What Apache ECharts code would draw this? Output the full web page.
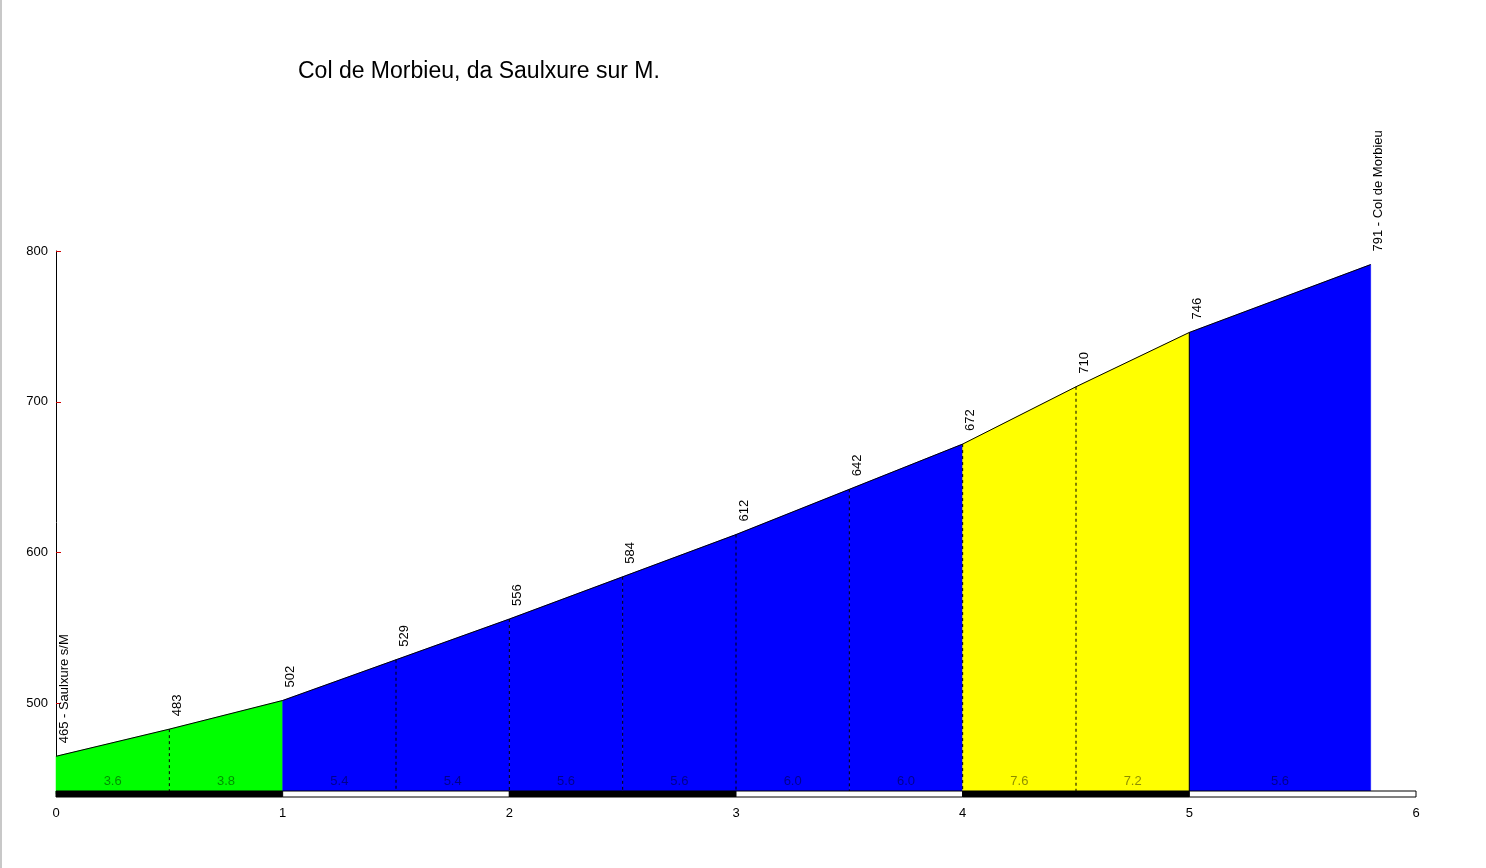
<!DOCTYPE html>
<html>
<head>
<meta charset="utf-8">
<script src="https://cdn.jsdelivr.net/npm/echarts@6/dist/echarts.min.js"></script>
<style>
html,body{margin:0;padding:0;background:#fff;}
#chart{width:1486px;height:868px;}
</style>
</head>
<body>
<div id="chart"></div>
<script>
// ---- data ----
const titleText = 'Col de Morbieu, da Saulxure sur M.';
const distances = [0, 0.5, 1, 1.5, 2, 2.5, 3, 3.5, 4, 4.5, 5, 5.8];
const elevations = [465, 483, 502, 529, 556, 584, 612, 642, 672, 710, 746, 791];
const gradients = ['3.6', '3.8', '5.4', '5.4', '5.6', '5.6', '6.0', '6.0', '7.6', '7.2', '5.6'];
const startName = 'Saulxure s/M';
const endName = 'Col de Morbieu';
const xTicks = [0, 1, 2, 3, 4, 5, 6];
const yTicks = [500, 600, 700, 800];
const kmBands = [0, 1, 2, 3, 4, 5];

const Y_MIN = 440, Y_MAX = 800;
const FONT = 'Arial, "Liberation Sans", sans-serif';

function gradColor(g) {
  const v = parseFloat(g);
  if (v < 5) return '#00ff00';
  if (v < 7) return '#0000ff';
  return '#ffff00';
}

const segData = gradients.map((g, i) => [distances[i], elevations[i], distances[i + 1], elevations[i + 1], g]);
const pointData = elevations.map((e, i) => {
  let label = String(e);
  if (i === 0) label = e + ' - ' + startName;
  if (i === elevations.length - 1) label = e + ' - ' + endName;
  return { value: [distances[i], e], label: label };
});
const bandData = kmBands.map((k, i) => [k, k + 1, i % 2]);

const chart = echarts.init(document.getElementById('chart'), null, { renderer: 'canvas' });

const option = {
  backgroundColor: '#ffffff',
  animation: false,
  title: {
    text: titleText,
    left: 293,
    top: 55,
    textStyle: { fontFamily: FONT, fontSize: 23, fontWeight: 'normal', color: '#000' }
  },
  graphic: [{
    type: 'rect', left: 0, top: 0, shape: { x: 0, y: 0, width: 2, height: 868 },
    style: { fill: '#c8c8c8' }, silent: true
  }],
  grid: { left: 56, right: 70, top: 251, bottom: 74, containLabel: false },
  xAxis: {
    type: 'value', min: 0, max: 6, interval: 1,
    axisLine: { show: false }, axisTick: { show: false }, splitLine: { show: false },
    axisLabel: { color: '#000', fontFamily: FONT, fontSize: 13, margin: 13 }
  },
  yAxis: {
    type: 'value', min: Y_MIN, max: Y_MAX,
    axisLine: { show: true, lineStyle: { color: '#000', width: 1 } },
    axisTick: { show: true, inside: true, length: 5, customValues: yTicks, lineStyle: { color: '#d00000', width: 1 } },
    axisLabel: { color: '#000', fontFamily: FONT, fontSize: 13, margin: 8, customValues: yTicks },
    splitLine: { show: false }
  },
  series: [
    {
      type: 'custom',
      name: 'segments',
      data: segData,
      encode: { x: [0, 2], y: [1, 3] },
      z: 2,
      renderItem: function (params, api) {
        const x0 = api.value(0), y0 = api.value(1), x1 = api.value(2), y1 = api.value(3);
        const g = segData[params.dataIndex][4];
        const pB0 = api.coord([x0, Y_MIN]);
        const pT0 = api.coord([x0, y0]);
        const pT1 = api.coord([x1, y1]);
        const pB1 = api.coord([x1, Y_MIN]);
        const children = [{
          type: 'polygon',
          shape: { points: [pB0, pT0, pT1, pB1] },
          style: { fill: gradColor(g), stroke: gradColor(g), lineWidth: 0.5 }
        }];
        if (params.dataIndex > 0) {
          const prevG = segData[params.dataIndex - 1][4];
          const sameColor = gradColor(prevG) === gradColor(g);
          const yellowEdge = gradColor(g) === '#ffff00' || gradColor(prevG) === '#ffff00';
          if (sameColor || yellowEdge) {
            children.push({
              type: 'line',
              shape: { x1: pT0[0], y1: pT0[1], x2: pB0[0], y2: pB0[1] },
              style: { stroke: '#000', lineWidth: 1, lineDash: sameColor || gradColor(g) === '#ffff00' ? [3, 3] : null }
            });
          }
        }
        children.push({
          type: 'text',
          x: (pB0[0] + pB1[0]) / 2,
          y: pB0[1] - 13,
          style: {
            text: g, fill: 'rgba(0,0,0,0.45)', font: '13px ' + FONT,
            align: 'center', verticalAlign: 'middle'
          }
        });
        return { type: 'group', children: children };
      }
    },
    {
      type: 'line',
      name: 'profile',
      data: distances.map((d, i) => [d, elevations[i]]),
      symbol: 'none',
      lineStyle: { color: '#000', width: 1 },
      z: 3
    },
    {
      type: 'custom',
      name: 'kmbar',
      data: bandData,
      encode: { x: [0, 1] },
      z: 4,
      renderItem: function (params, api) {
        const a = api.coord([api.value(0), Y_MIN]);
        const b = api.coord([api.value(1), Y_MIN]);
        return {
          type: 'rect',
          shape: { x: a[0], y: a[1] - 3, width: b[0] - a[0], height: 6 },
          style: { fill: api.value(2) === 0 ? '#000' : '#fff', stroke: '#000', lineWidth: 1 }
        };
      }
    },
    {
      type: 'custom',
      name: 'elevLabels',
      data: pointData,
      encode: { x: 0, y: 1 },
      z: 5,
      renderItem: function (params, api) {
        const p = api.coord([api.value(0), api.value(1)]);
        return {
          type: 'text',
          x: p[0] + 8,
          y: p[1] - 13,
          rotation: Math.PI / 2,
          style: {
            text: pointData[params.dataIndex].label,
            fill: '#000', font: '13px ' + FONT,
            align: 'left', verticalAlign: 'middle'
          }
        };
      }
    }
  ]
};

chart.setOption(option);
</script>
</body>
</html>
